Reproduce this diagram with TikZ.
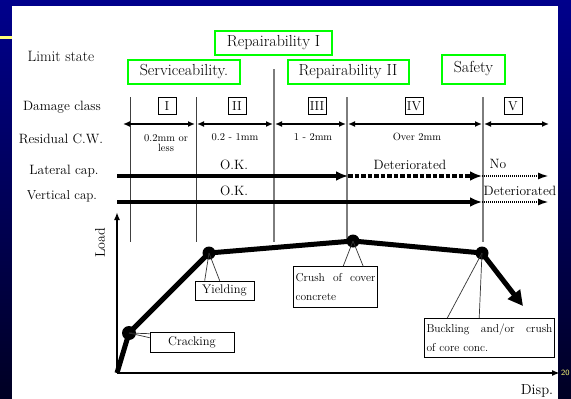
\documentclass[tikz,border=0pt]{standalone}
\usetikzlibrary{positioning,calc,arrows.meta}
\definecolor{limitgreen}{RGB}{0,255,0}
\definecolor{slideblue}{RGB}{0,0,140}
\definecolor{slidedark}{RGB}{0,0,35}
\definecolor{pageyellow}{RGB}{255,255,120}
\definecolor{divgray}{RGB}{125,125,125}
\newcommand{\fsz}[1]{\fontsize{#1}{#1}\selectfont}

\begin{document}
\begin{tikzpicture}[x=1pt,y=-1pt,
  limitbox/.style={draw=limitgreen,line width=2pt,inner sep=0pt,font=\fsz{16}},
  rowlabel/.style={font=\fsz{13.5}},
  classbox/.style={draw,line width=0.7pt,inner sep=0pt,minimum width=18pt,minimum height=17pt,font=\fsz{13}},
  widthlabel/.style={font=\fsz{10.5},align=center,inner sep=1pt},
  caplabel/.style={font=\fsz{13.5},inner sep=1pt},
  divline/.style={line width=0.9pt,black!75},
  divgrayline/.style={line width=1.4pt,divgray},
  classarrow/.style={line width=1.6pt,{Latex[length=7pt,width=6pt]}-{Latex[length=7pt,width=6pt]}},
  caparrow/.style={line width=4pt,-{Latex[length=12pt,width=10pt]}},
  capdotted/.style={line width=2pt,dash pattern=on 1pt off 1pt,-{Latex[length=11pt,width=7pt]}},
  axisline/.style={line width=1.8pt,-{Latex[length=8pt,width=6pt]}},
  loadcurve/.style={line width=5pt,line join=round},
  curvedot/.style={circle,fill=black,inner sep=0pt,minimum size=13pt},
  callbox/.style={draw,line width=0.6pt,inner sep=2pt,font=\fsz{12.5}},
  pointer/.style={line width=0.7pt,black!80}]
\useasboundingbox (0,0) rectangle (571,399);
%% slide background
\shade[top color=slideblue,bottom color=slidedark] (0,0) rectangle (571,399);
\fill[white] (12,6) rectangle (558,399);
\fill[pageyellow] (0,36) rectangle (12,39);
\node[font=\sffamily\fsz{8},text=pageyellow,anchor=west,inner sep=0pt] (pageNum) at (561,373) {20};

%the row labels
\node[rowlabel,font=\fsz{15}] (rowLimit) at (61,56) {Limit state};
\node[rowlabel] (rowClass) at (62,107) {Damage class};
\node[rowlabel] (rowWidth) at (61,139) {Residual C.W.};
\node[rowlabel] (rowLateral) at (64,171) {Lateral cap.};
\node[rowlabel,font=\fsz{13}] (rowVertical) at (62,196) {Vertical cap.};

%the limit states
\node[limitbox,minimum width=117pt,minimum height=24pt] (limitRepOne) at (273.5,43) {Repairability I};
\node[limitbox,minimum width=112pt,minimum height=24pt] (limitServ) at (184,72) {Serviceability.};
\node[limitbox,minimum width=121pt,minimum height=24pt] (limitRepTwo) at (348,72) {Repairability II};
\node[limitbox,minimum width=63pt,minimum height=29pt] (limitSafety) at (473.5,69) {Safety};

%dividers between the classes
\coordinate (divOneTop) at (130,97);   \coordinate (divOneBot) at (130,242);
\coordinate (divTwoTop) at (196,97);   \coordinate (divTwoBot) at (196,242);
\coordinate (divThreeTop) at (274,69); \coordinate (divThreeBot) at (274,242);
\coordinate (divFourTop) at (347,97);  \coordinate (divFourBot) at (347,240);
\coordinate (divFiveTop) at (483,97);  \coordinate (divFiveBot) at (483,242);
\draw[divline] (divOneTop) -- (divOneBot);
\draw[divline] (divTwoTop) -- (divTwoBot);
\draw[divgrayline] (divThreeTop) -- (divThreeBot);
\draw[divgrayline] (divFourTop) -- (divFourBot);
\draw[divgrayline] (divFiveTop) -- (divFiveBot);

%the damage classes
\node[classbox] (classOne) at (167,106) {I};
\node[classbox] (classTwo) at (237,106) {II};
\node[classbox] (classThree) at (317,106) {III};
\node[classbox] (classFour) at (414,106) {IV};
\node[classbox] (classFive) at (513,106) {V};
\coordinate (spanA) at (123,124); \coordinate (spanB) at (195,124);
\coordinate (spanC) at (197,124); \coordinate (spanD) at (273,124);
\coordinate (spanE) at (275,124); \coordinate (spanF) at (346,124);
\coordinate (spanG) at (348,124); \coordinate (spanH) at (482,124);
\coordinate (spanI) at (484,124); \coordinate (spanJ) at (549,124);
\draw[classarrow] (spanA) -- (spanB);
\draw[classarrow] (spanC) -- (spanD);
\draw[classarrow] (spanE) -- (spanF);
\draw[classarrow] (spanG) -- (spanH);
\draw[classarrow] (spanI) -- (spanJ);

%residual crack widths
\node[widthlabel] (widthOne) at (166,143) {0.2mm or\\less};
\node[widthlabel] (widthTwo) at (235,137) {0.2 - 1mm};
\node[widthlabel] (widthThree) at (313,137) {1 - 2mm};
\node[widthlabel] (widthFour) at (417,137) {Over 2mm};

%lateral and vertical capacity
\coordinate (latStart) at (117,176); \coordinate (latMid) at (348,176);
\coordinate (latSafe) at (482,176);  \coordinate (latEnd) at (549,176);
\coordinate (verStart) at (117,202); \coordinate (verSafe) at (482,202);
\coordinate (verEnd) at (549,202);
\draw[caparrow] (latStart) -- (latMid);
\draw[caparrow,dash pattern=on 4.5pt off 2pt] (latMid) -- (latSafe);
\draw[capdotted] (latSafe) -- (latEnd);
\draw[caparrow] (verStart) -- (verSafe);
\draw[capdotted] (verSafe) -- (verEnd);
\node[caplabel] (latOK) at (234,165) {O.K.};
\node[caplabel] (latDet) at (410,165) {Deteriorated};
\node[caplabel] (latNo) at (498,164) {No};
\node[caplabel] (verOK) at (234,191) {O.K.};
\node[caplabel,fill=white,inner sep=0pt] (verDet) at (520,191) {Deteriorated};

%load - displacement axes
\coordinate (origin) at (117,373);
\coordinate (yTip) at (117,212);
\coordinate (xTip) at (560,373);
\draw[axisline] (origin) -- (yTip);
\draw[axisline] (origin) -- (xTip);
\node[rowlabel,font=\fsz{14},rotate=90] (loadLabel) at (100,243) {Load};
\node[rowlabel,font=\fsz{14.5}] (dispLabel) at (537,391) {Disp.};

%the load curve
\node[curvedot,minimum size=14pt] (crackDot) at (129,333) {};
\node[curvedot] (yieldDot) at (209,253) {};
\node[curvedot] (crushDot) at (353,241) {};
\node[curvedot] (buckleDot) at (482,253) {};
\coordinate (curveEnd) at (523,306);
\draw[loadcurve] (origin) -- (crackDot.center) -- (yieldDot.center) -- (crushDot.center) -- (buckleDot.center);
\draw[loadcurve,-{Triangle[length=15pt,width=15pt]}] (buckleDot.center) -- (curveEnd);

%callouts
\node[callbox,minimum width=84pt,minimum height=20pt] (crackBox) at (192,342) {Cracking};
\node[callbox,minimum width=59pt,minimum height=19pt] (yieldBox) at (224.5,290.5) {Yielding};
\node[callbox,text width=80pt,align=left,font=\fontsize{11.5}{19}\selectfont,minimum height=41pt] (crushBox) at (335.5,287) {Crush\hfill of\hfill cover\\concrete};
\node[callbox,text width=126pt,align=left,font=\fontsize{11.5}{19}\selectfont,minimum height=39pt] (buckleBox) at (489.5,338) {Buckling\hfill and/or\hfill crush\\of core conc.};
\draw[pointer] (crackDot.center) -- ($(crackBox.north west)+(0,2)$);
\draw[pointer] (crackDot.center) -- ($(crackBox.north west)+(0,6)$);
\draw[pointer] (yieldDot.center) -- ($(yieldBox.north west)+(10,0)$);
\draw[pointer] (yieldDot.center) -- ($(yieldBox.north west)+(25,0)$);
\draw[pointer] (crushDot.center) -- ($(crushBox.north west)+(50,0)$);
\draw[pointer] (crushDot.center) -- ($(crushBox.north west)+(70,0)$);
\draw[pointer] (buckleDot.center) -- ($(buckleBox.north west)+(23,0)$);
\draw[pointer] (buckleDot.center) -- ($(buckleBox.north west)+(55,0)$);
\end{tikzpicture}
\end{document}
